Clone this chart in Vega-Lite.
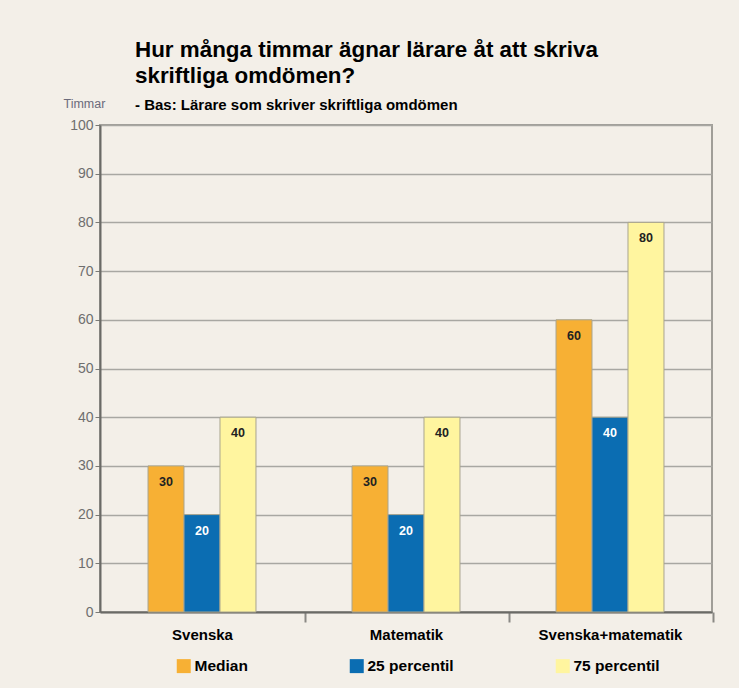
{
  "$schema": "https://vega.github.io/schema/vega-lite/v6.json",
  "width": 612,
  "height": 487,
  "autosize": {"type": "none"},
  "padding": {"left": 100, "top": 125, "right": 27, "bottom": 76},
  "background": "#f3efe8",
  "title": {
    "text": ["Hur många timmar ägnar lärare åt att skriva", "skriftliga omdömen?"],
    "subtitle": "- Bas: Lärare som skriver skriftliga omdömen",
    "anchor": "start",
    "frame": "group",
    "dx": 35,
    "offset": -16,
    "font": "Liberation Sans",
    "fontSize": 22.4,
    "fontWeight": "bold",
    "color": "#000000",
    "lineHeight": 26,
    "subtitleFont": "Liberation Sans",
    "subtitleFontSize": 15,
    "subtitleFontWeight": "bold",
    "subtitleColor": "#000000",
    "subtitlePadding": 11
  },
  "data": {
    "values": [
      {"amne": "Svenska", "serie": "Median", "timmar": 30},
      {"amne": "Svenska", "serie": "25 percentil", "timmar": 20},
      {"amne": "Svenska", "serie": "75 percentil", "timmar": 40},
      {"amne": "Matematik", "serie": "Median", "timmar": 30},
      {"amne": "Matematik", "serie": "25 percentil", "timmar": 20},
      {"amne": "Matematik", "serie": "75 percentil", "timmar": 40},
      {"amne": "Svenska+matematik", "serie": "Median", "timmar": 60},
      {"amne": "Svenska+matematik", "serie": "25 percentil", "timmar": 40},
      {"amne": "Svenska+matematik", "serie": "75 percentil", "timmar": 80}
    ]
  },
  "encoding": {
    "x": {
      "field": "amne",
      "type": "nominal",
      "sort": ["Svenska", "Matematik", "Svenska+matematik"],
      "scale": {"paddingInner": 0.118, "paddingOuter": 0.059},
      "axis": {
        "title": null,
        "labelAngle": 0,
        "labelFont": "Liberation Sans",
        "labelFontSize": 15,
        "labelFontWeight": "bold",
        "labelColor": "#000000",
        "labelPadding": 5,
        "tickOffset": 103,
        "labelOffset": -103,
        "tickSize": 10,
        "tickColor": "#8a8985",
        "tickWidth": 2,
        "domainColor": "#6a6a66",
        "domainWidth": 2,
        "grid": false
      }
    },
    "xOffset": {
      "field": "serie",
      "type": "nominal",
      "sort": ["Median", "25 percentil", "75 percentil"],
      "scale": {"paddingInner": 0, "paddingOuter": 1}
    },
    "y": {
      "field": "timmar",
      "type": "quantitative",
      "scale": {"domain": [0, 100]},
      "axis": {
        "title": "Timmar",
        "titleAngle": 0,
        "titleAlign": "left",
        "titleBaseline": "alphabetic",
        "titleX": -37,
        "titleY": -18,
        "titleFont": "Liberation Sans",
        "titleFontSize": 12.5,
        "titleFontWeight": "normal",
        "titleColor": "#6b6b7b",
        "values": [0, 10, 20, 30, 40, 50, 60, 70, 80, 90, 100],
        "labelFont": "Liberation Sans",
        "labelFontSize": 14,
        "labelColor": "#6e6e6e",
        "labelPadding": 2,
        "tickSize": 5,
        "tickColor": "#7a7a76",
        "domainColor": "#6a6a66",
        "domainWidth": 2,
        "gridColor": "#a8a7a2",
        "gridWidth": 1.5
      }
    }
  },
  "layer": [
    {
      "mark": {"type": "bar", "stroke": "#a9a58f", "strokeWidth": 1},
      "encoding": {
        "color": {
          "field": "serie",
          "type": "nominal",
          "sort": ["Median", "25 percentil", "75 percentil"],
          "scale": {
            "domain": ["Median", "25 percentil", "75 percentil"],
            "range": ["#f7b034", "#0b6db2", "#fff59f"]
          },
          "legend": {
            "orient": "none",
            "legendX": 76,
            "legendY": 533,
            "direction": "horizontal",
            "title": null,
            "symbolType": "square",
            "symbolSize": 196,
            "symbolStrokeWidth": 0,
            "labelFont": "Liberation Sans",
            "labelFontSize": 15.5,
            "labelFontWeight": "bold",
            "labelColor": "#000000",
            "labelOffset": 3,
            "columnPadding": 101,
            "encode": {
              "symbols": {
                "update": {
                  "fill": {"signal": "datum.value === 'Median' ? '#f39200' : datum.value === '25 percentil' ? '#0a6eb4' : '#ffe600'"},
                  "stroke": {"value": "transparent"}
                }
              }
            }
          }
        }
      }
    },
    {
      "mark": {
        "type": "text",
        "baseline": "middle",
        "dy": 16,
        "font": "Liberation Sans",
        "fontSize": 12.5,
        "fontWeight": "bold"
      },
      "encoding": {
        "text": {"field": "timmar", "type": "quantitative"},
        "color": {
          "condition": {"test": "datum.serie === '25 percentil'", "value": "#ffffff"},
          "value": "#222222"
        }
      }
    }
  ],
  "config": {
    "view": {"stroke": "#a09e98", "strokeWidth": 2}
  }
}
